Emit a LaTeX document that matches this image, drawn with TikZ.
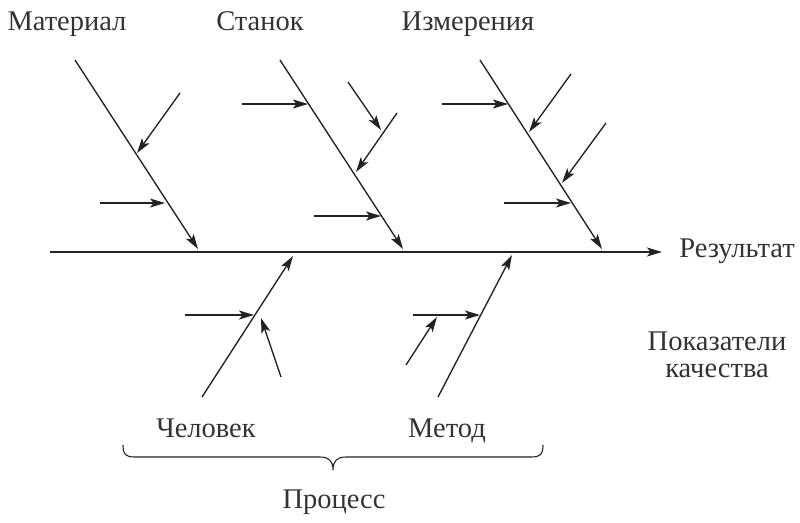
\documentclass[tikz,border=0pt]{standalone}
\usepackage{fontspec}
\setmainfont{Liberation Serif}
\usetikzlibrary{arrows.meta}
\definecolor{ink}{HTML}{222222}
\definecolor{txt}{HTML}{333333}
\tikzset{
  bone/.style={draw=ink, line width=1.35pt, -{Stealth[length=15pt,width=9pt,inset=3.5pt]}},
  lbl/.style={text=txt, font=\fontsize{28.5}{30}\selectfont, anchor=base, inner sep=0pt},
  brc/.style={draw=ink, line width=1.1pt}
}
\begin{document}
\begin{tikzpicture}[x=1pt,y=-1pt]
\useasboundingbox (0,0) rectangle (800,522);
% spine
\coordinate (s0) at (50,252);
\coordinate (s1) at (662,252);
\draw[bone] (s0) -- (s1);
% main bones
\coordinate (m0) at (75,60);   \coordinate (m1) at (198,249);
\coordinate (t0) at (280,60);  \coordinate (t1) at (403,249);
\coordinate (i0) at (480,60);  \coordinate (i1) at (602,249);
\coordinate (c0) at (202,397); \coordinate (c1) at (293,256);
\coordinate (e0) at (438,397); \coordinate (e1) at (512,255);
\draw[bone] (m0) -- (m1);
\draw[bone] (t0) -- (t1);
\draw[bone] (i0) -- (i1);
\draw[bone] (c0) -- (c1);
\draw[bone] (e0) -- (e1);
% sub arrows: material
\coordinate (ma0) at (180,93);  \coordinate (ma1) at (137,153);
\coordinate (mb0) at (100,203); \coordinate (mb1) at (165,203);
\draw[bone] (ma0) -- (ma1);
\draw[bone] (mb0) -- (mb1);
% sub arrows: stanok
\coordinate (ta0) at (242,104); \coordinate (ta1) at (308,104);
\coordinate (tb0) at (348,82);  \coordinate (tb1) at (381,130);
\coordinate (tc0) at (397,113); \coordinate (tc1) at (356,172);
\coordinate (td0) at (314,216); \coordinate (td1) at (381,216);
\draw[bone] (ta0) -- (ta1);
\draw[bone] (tb0) -- (tb1);
\draw[bone] (tc0) -- (tc1);
\draw[bone] (td0) -- (td1);
% sub arrows: izmereniya
\coordinate (ia0) at (442,104); \coordinate (ia1) at (508,104);
\coordinate (ib0) at (571,74);  \coordinate (ib1) at (529,132);
\coordinate (ic0) at (606,123); \coordinate (ic1) at (562,183);
\coordinate (id0) at (504,203); \coordinate (id1) at (571,203);
\draw[bone] (ia0) -- (ia1);
\draw[bone] (ib0) -- (ib1);
\draw[bone] (ic0) -- (ic1);
\draw[bone] (id0) -- (id1);
% sub arrows: chelovek
\coordinate (ca0) at (185,315); \coordinate (ca1) at (254,315);
\coordinate (cb0) at (281,377); \coordinate (cb1) at (261,318);
\draw[bone] (ca0) -- (ca1);
\draw[bone] (cb0) -- (cb1);
% sub arrows: metod
\coordinate (ea0) at (413,315); \coordinate (ea1) at (480,315);
\coordinate (eb0) at (406,365); \coordinate (eb1) at (437,317);
\draw[bone] (ea0) -- (ea1);
\draw[bone] (eb0) -- (eb1);
% labels
\node[lbl] (lm) at (67,30) {Материал};
\node[lbl] (lt) at (260,30) {Станок};
\node[lbl] (li) at (468,30) {Измерения};
\node[lbl] (lr) at (737,257) {Результат};
\node[lbl] (lq1) at (717,350) {Показатели};
\node[lbl] (lq2) at (717,377) {качества};
\node[lbl] (lc) at (206,437) {Человек};
\node[lbl] (le) at (447,437) {Метод};
\node[lbl] (lp) at (334,508) {Процесс};
% brace
\coordinate (b0) at (123,445);
\coordinate (bt) at (333,470);
\coordinate (b1) at (543,445);
\draw[brc] (b0) .. controls (123,454) and (125,457) .. (135,457) -- (320,457)
  .. controls (329,457) and (333,461) .. (bt)
  .. controls (333,461) and (337,457) .. (346,457) -- (531,457)
  .. controls (541,457) and (543,454) .. (b1);
\end{tikzpicture}
\end{document}
